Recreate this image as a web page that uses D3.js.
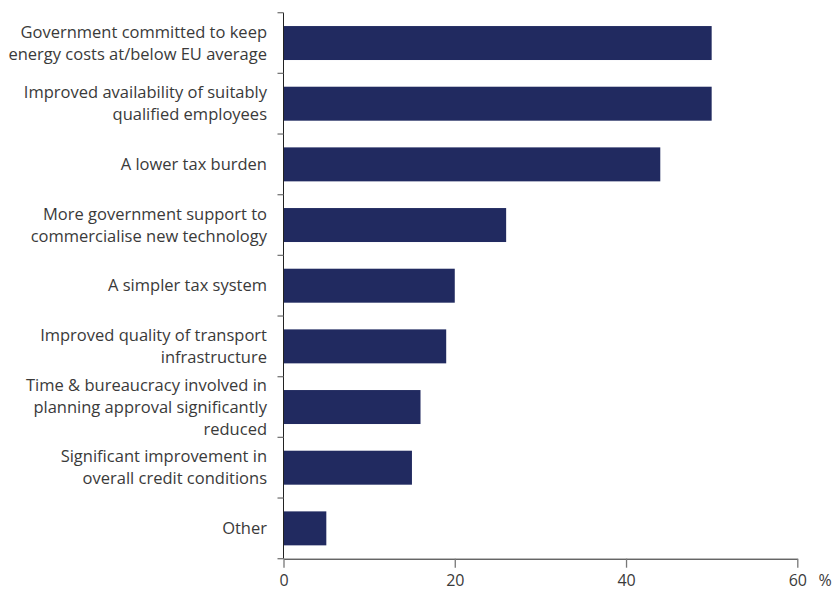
<!DOCTYPE html>
<html>
<head>
<meta charset="utf-8">
<script src="https://cdn.jsdelivr.net/npm/d3@7"></script>
<style>
  html, body { margin: 0; padding: 0; background: #fff; }
  svg { display: block; }
  text { font-family: "Open Sans", "Noto Sans", sans-serif; fill: #3a3a3a; }
</style>
</head>
<body>
<svg id="chart" width="834" height="591"></svg>
<script>
// ---- data ----
const categories = [
  ["Government committed to keep", "energy costs at/below EU average"],
  ["Improved availability of suitably", "qualified employees"],
  ["A lower tax burden"],
  ["More government support to", "commercialise new technology"],
  ["A simpler tax system"],
  ["Improved quality of transport", "infrastructure"],
  ["Time & bureaucracy involved in", "planning approval significantly", "reduced"],
  ["Significant improvement in", "overall credit conditions"],
  ["Other"]
];
const values = [50, 50, 44, 26, 20, 19, 16, 15, 5];
const xTicks = [0, 20, 40, 60];
const unitLabel = "%";

// ---- layout ----
const svg = d3.select("#chart");
const plotLeft = 283.5, plotRight = 797.3, plotTop = 12.7, plotBottom = 558.7;

const x = d3.scaleLinear().domain([0, 60]).range([plotLeft, plotRight]);
const y = d3.scaleBand()
  .domain(d3.range(categories.length))
  .range([plotTop, plotBottom])
  .paddingInner(0.44)
  .paddingOuter(0.22);

const step = y.step();
const bandEdge = i => plotTop + i * step;

// bars
svg.append("g").selectAll("rect")
  .data(values)
  .join("rect")
  .attr("x", x(0))
  .attr("y", (d, i) => y(i))
  .attr("width", d => x(d) - x(0))
  .attr("height", y.bandwidth())
  .attr("fill", "#212a60");

// y axis: line and boundary ticks
const yAxis = svg.append("g");
yAxis.append("line")
  .attr("x1", plotLeft).attr("x2", plotLeft)
  .attr("y1", plotTop).attr("y2", plotBottom)
  .attr("stroke", "#222").attr("stroke-width", 1);
yAxis.selectAll("line.tick")
  .data(d3.range(categories.length + 1))
  .join("line")
  .attr("class", "tick")
  .attr("x1", plotLeft - 6).attr("x2", plotLeft)
  .attr("y1", i => bandEdge(i)).attr("y2", i => bandEdge(i))
  .attr("stroke", "#777").attr("stroke-width", 1.3);

// category labels
const lineH = 22;
const labels = svg.append("g");
categories.forEach((lines, i) => {
  const cy = y(i) + y.bandwidth() / 2;
  const t = labels.append("text")
    .attr("text-anchor", "end")
    .attr("font-size", 16.5);
  lines.forEach((ln, j) => {
    t.append("tspan")
      .attr("x", 267)
      .attr("y", cy + (j - (lines.length - 1) / 2) * lineH)
      .attr("dy", "0.35em")
      .text(ln);
  });
});

// x axis
const xAxis = svg.append("g")
  .attr("transform", `translate(0,${plotBottom})`)
  .call(d3.axisBottom(x).tickValues(xTicks).tickSize(9).tickSizeOuter(0).tickPadding(7));
xAxis.select(".domain").attr("stroke", "#222");
xAxis.selectAll(".tick line").attr("stroke", "#777").attr("stroke-width", 1.3);
xAxis.selectAll(".tick text")
  .attr("font-size", 16)
  .attr("fill", "#3a3a3a")
  .style("font-family", '"Open Sans", "Noto Sans", sans-serif');

svg.append("text")
  .attr("x", 825)
  .attr("y", plotBottom + 16)
  .attr("dy", "0.71em")
  .attr("text-anchor", "middle")
  .attr("font-size", 16)
  .text(unitLabel);
</script>
</body>
</html>
